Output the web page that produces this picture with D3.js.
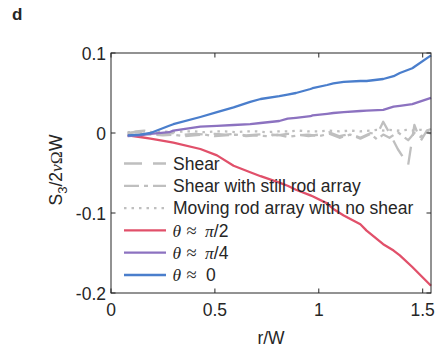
<!DOCTYPE html>
<html>
<head>
<meta charset="utf-8">
<script src="https://cdn.jsdelivr.net/npm/d3@7"></script>
<style>
  body { margin: 0; background: #fff; }
  text { font-family: "Liberation Sans", Arial, sans-serif; fill: #262626; }
  .serif { font-family: "Liberation Serif", "DejaVu Serif", serif; font-style: italic; }
</style>
</head>
<body>
<script>
// colored curves
const rColor = [0.08, 0.14, 0.19, 0.28, 0.30, 0.43, 0.51, 0.59, 0.67, 0.72, 0.81, 0.85, 0.89, 0.96, 0.97, 1.04, 1.07, 1.12, 1.20, 1.23, 1.31, 1.36, 1.39, 1.45, 1.54];
const thetaPi2 = [-0.003, -0.005, -0.007, -0.011, -0.012, -0.020, -0.028, -0.041, -0.049, -0.054, -0.062, -0.066, -0.071, -0.078, -0.079, -0.088, -0.095, -0.103, -0.114, -0.122, -0.139, -0.147, -0.153, -0.1675, -0.191];
const thetaPi4 = [-0.004, -0.003, -0.001, 0.001, 0.003, 0.008, 0.009, 0.010, 0.011, 0.0125, 0.015, 0.018, 0.019, 0.021, 0.022, 0.024, 0.025, 0.026, 0.0275, 0.028, 0.029, 0.033, 0.034, 0.036, 0.044];
const theta0   = [-0.003, -0.002, 0.000, 0.009, 0.011, 0.020, 0.026, 0.032, 0.039, 0.0425, 0.046, 0.048, 0.050, 0.055, 0.056, 0.060, 0.062, 0.064, 0.065, 0.065, 0.0675, 0.071, 0.075, 0.081, 0.097];

// gray control curves
const rGray = [0.08, 0.12, 0.16, 0.20, 0.25, 0.30, 0.35, 0.40, 0.45, 0.50, 0.55, 0.60, 0.65, 0.70, 0.75, 0.80, 0.85, 0.90, 0.95, 1.00, 1.05, 1.10, 1.15, 1.20, 1.25, 1.28, 1.31, 1.34, 1.38, 1.43, 1.46, 1.49, 1.52, 1.54];
const shear        = [-0.001, 0.002, 0.003, 0.000, -0.001, 0.000, -0.002, -0.001, -0.002, -0.001, -0.002, -0.001, -0.003, -0.002, -0.001, -0.003, -0.001, -0.002, -0.004, -0.002, 0.001, -0.004, -0.001, -0.006, 0.000, -0.002, 0.014, 0.000, -0.020, -0.040, 0.010, -0.010, 0.003, 0.005];
const shearStill   = [0.000, 0.001, -0.001, -0.002, -0.003, -0.002, -0.004, -0.003, -0.002, -0.004, -0.003, -0.002, -0.004, -0.003, -0.004, -0.002, -0.005, -0.003, -0.002, -0.004, -0.001, -0.006, -0.002, -0.007, -0.001, -0.008, -0.002, -0.006, 0.001, -0.009, 0.000, -0.005, 0.002, -0.001];
const movingNoShear = [0.001, 0.001, 0.002, 0.001, 0.002, 0.001, 0.002, 0.002, 0.001, 0.002, 0.002, 0.001, 0.002, 0.002, 0.001, 0.002, 0.002, 0.003, 0.002, 0.002, 0.003, 0.002, 0.003, 0.002, 0.003, 0.004, 0.003, 0.004, 0.003, 0.004, 0.003, 0.004, 0.003, 0.004];

const xTicks = [0, 0.5, 1, 1.5];
const yTicks = [-0.2, -0.1, 0, 0.1];
const xTickLabels = ["0", "0.5", "1", "1.5"];
const yTickLabels = ["-0.2", "-0.1", "0", "0.1"];

const width = 437, height = 352;
const margin = { top: 53, right: 6, bottom: 59, left: 111 };
const fs = 17.5;

const svg = d3.select("body").append("svg")
  .attr("width", width)
  .attr("height", height);

const x = d3.scaleLinear().domain([0, 1.54]).range([margin.left, width - margin.right]);
const y = d3.scaleLinear().domain([-0.2, 0.1]).range([height - margin.bottom, margin.top]);

// series
const gray = "#bfbfbf";
const series = [
  { r: rGray, v: shear, color: gray, dash: "18,11", label: "Shear" },
  { r: rGray, v: shearStill, color: gray, dash: "15,5,4,5", label: "Shear with still rod array" },
  { r: rGray, v: movingNoShear, color: gray, dash: "2.5,5", label: "Moving rod array with no shear" },
  { r: rColor, v: thetaPi2, color: "#e1506a", dash: null, label: "pi2" },
  { r: rColor, v: thetaPi4, color: "#8c72c0", dash: null, label: "pi4" },
  { r: rColor, v: theta0, color: "#4a7ecc", dash: null, label: "zero" }
];

const line = d3.line().x(d => x(d[0])).y(d => y(d[1]));

series.forEach(s => {
  svg.append("path")
    .datum(s.r.map((r, i) => [r, s.v[i]]))
    .attr("d", line)
    .attr("fill", "none")
    .attr("stroke", s.color)
    .attr("stroke-width", 2.3)
    .attr("stroke-dasharray", s.dash)
    .attr("stroke-linejoin", "round");
});

// axes box with inward ticks
const axisColor = "#262626";
svg.append("rect")
  .attr("x", x(0)).attr("y", y(0.1))
  .attr("width", x(1.54) - x(0)).attr("height", y(-0.2) - y(0.1))
  .attr("fill", "none").attr("stroke", axisColor).attr("stroke-width", 1);

const tl = 4.5;
xTicks.forEach((t, i) => {
  svg.append("line").attr("x1", x(t)).attr("x2", x(t)).attr("y1", y(-0.2)).attr("y2", y(-0.2) - tl).attr("stroke", axisColor);
  svg.append("line").attr("x1", x(t)).attr("x2", x(t)).attr("y1", y(0.1)).attr("y2", y(0.1) + tl).attr("stroke", axisColor);
  svg.append("text").attr("x", x(t)).attr("y", y(-0.2) + 23)
    .attr("text-anchor", "middle").attr("font-size", fs).text(xTickLabels[i]);
});
yTicks.forEach((t, i) => {
  svg.append("line").attr("x1", x(0)).attr("x2", x(0) + tl).attr("y1", y(t)).attr("y2", y(t)).attr("stroke", axisColor);
  svg.append("line").attr("x1", x(1.54)).attr("x2", x(1.54) - tl).attr("y1", y(t)).attr("y2", y(t)).attr("stroke", axisColor);
  svg.append("text").attr("x", x(0) - 5).attr("y", y(t) + 6.5)
    .attr("text-anchor", "end").attr("font-size", fs).text(yTickLabels[i]);
});

// axis labels
svg.append("text").attr("x", (x(0) + x(1.54)) / 2).attr("y", 344)
  .attr("text-anchor", "middle").attr("font-size", fs).text("r/W");

const yl = svg.append("text")
  .attr("transform", `translate(62,${(y(0.1) + y(-0.2)) / 2 - 3}) rotate(-90)`)
  .attr("text-anchor", "middle").attr("font-size", fs);
yl.append("tspan").text("S");
yl.append("tspan").attr("font-size", 13).attr("dy", 5).text("3");
yl.append("tspan").attr("dy", -5).text("/2");
yl.append("tspan").attr("class", "serif").text("ν");
yl.append("tspan").attr("class", "serif").style("font-style", "normal").text("Ω");
yl.append("tspan").text("W");

// panel letter
svg.append("text").attr("x", 12).attr("y", 20)
  .attr("font-size", 17).attr("font-weight", "bold").text("d");

// legend
const legX0 = 124, legX1 = 166, legTx = 173, legY0 = 163.5, legDy = 22.3;
series.forEach((s, i) => {
  const yy = legY0 + i * legDy;
  svg.append("line").attr("x1", legX0).attr("x2", legX1).attr("y1", yy).attr("y2", yy)
    .attr("stroke", s.color).attr("stroke-width", 2.3).attr("stroke-dasharray", s.dash);
  const ty = yy + 6.3;
  if (i < 3) {
    svg.append("text").attr("x", legTx).attr("y", ty).attr("font-size", fs).text(s.label);
  } else {
    // LaTeX-style spacing: theta, approx, then value
    svg.append("text").attr("class", "serif").attr("x", 172.5).attr("y", ty).attr("font-size", fs).text("θ");
    svg.append("text").attr("class", "serif").style("font-style", "normal")
      .attr("x", 186.5).attr("y", ty).attr("font-size", 18.5).text("≈");
    if (s.label === "zero") {
      svg.append("text").attr("x", 206).attr("y", ty).attr("font-size", fs).text("0");
    } else {
      const t = svg.append("text").attr("x", 205).attr("y", ty).attr("font-size", fs);
      t.append("tspan").attr("class", "serif").text("π");
      t.append("tspan").text(s.label === "pi2" ? "/2" : "/4");
    }
  }
});
</script>
</body>
</html>
